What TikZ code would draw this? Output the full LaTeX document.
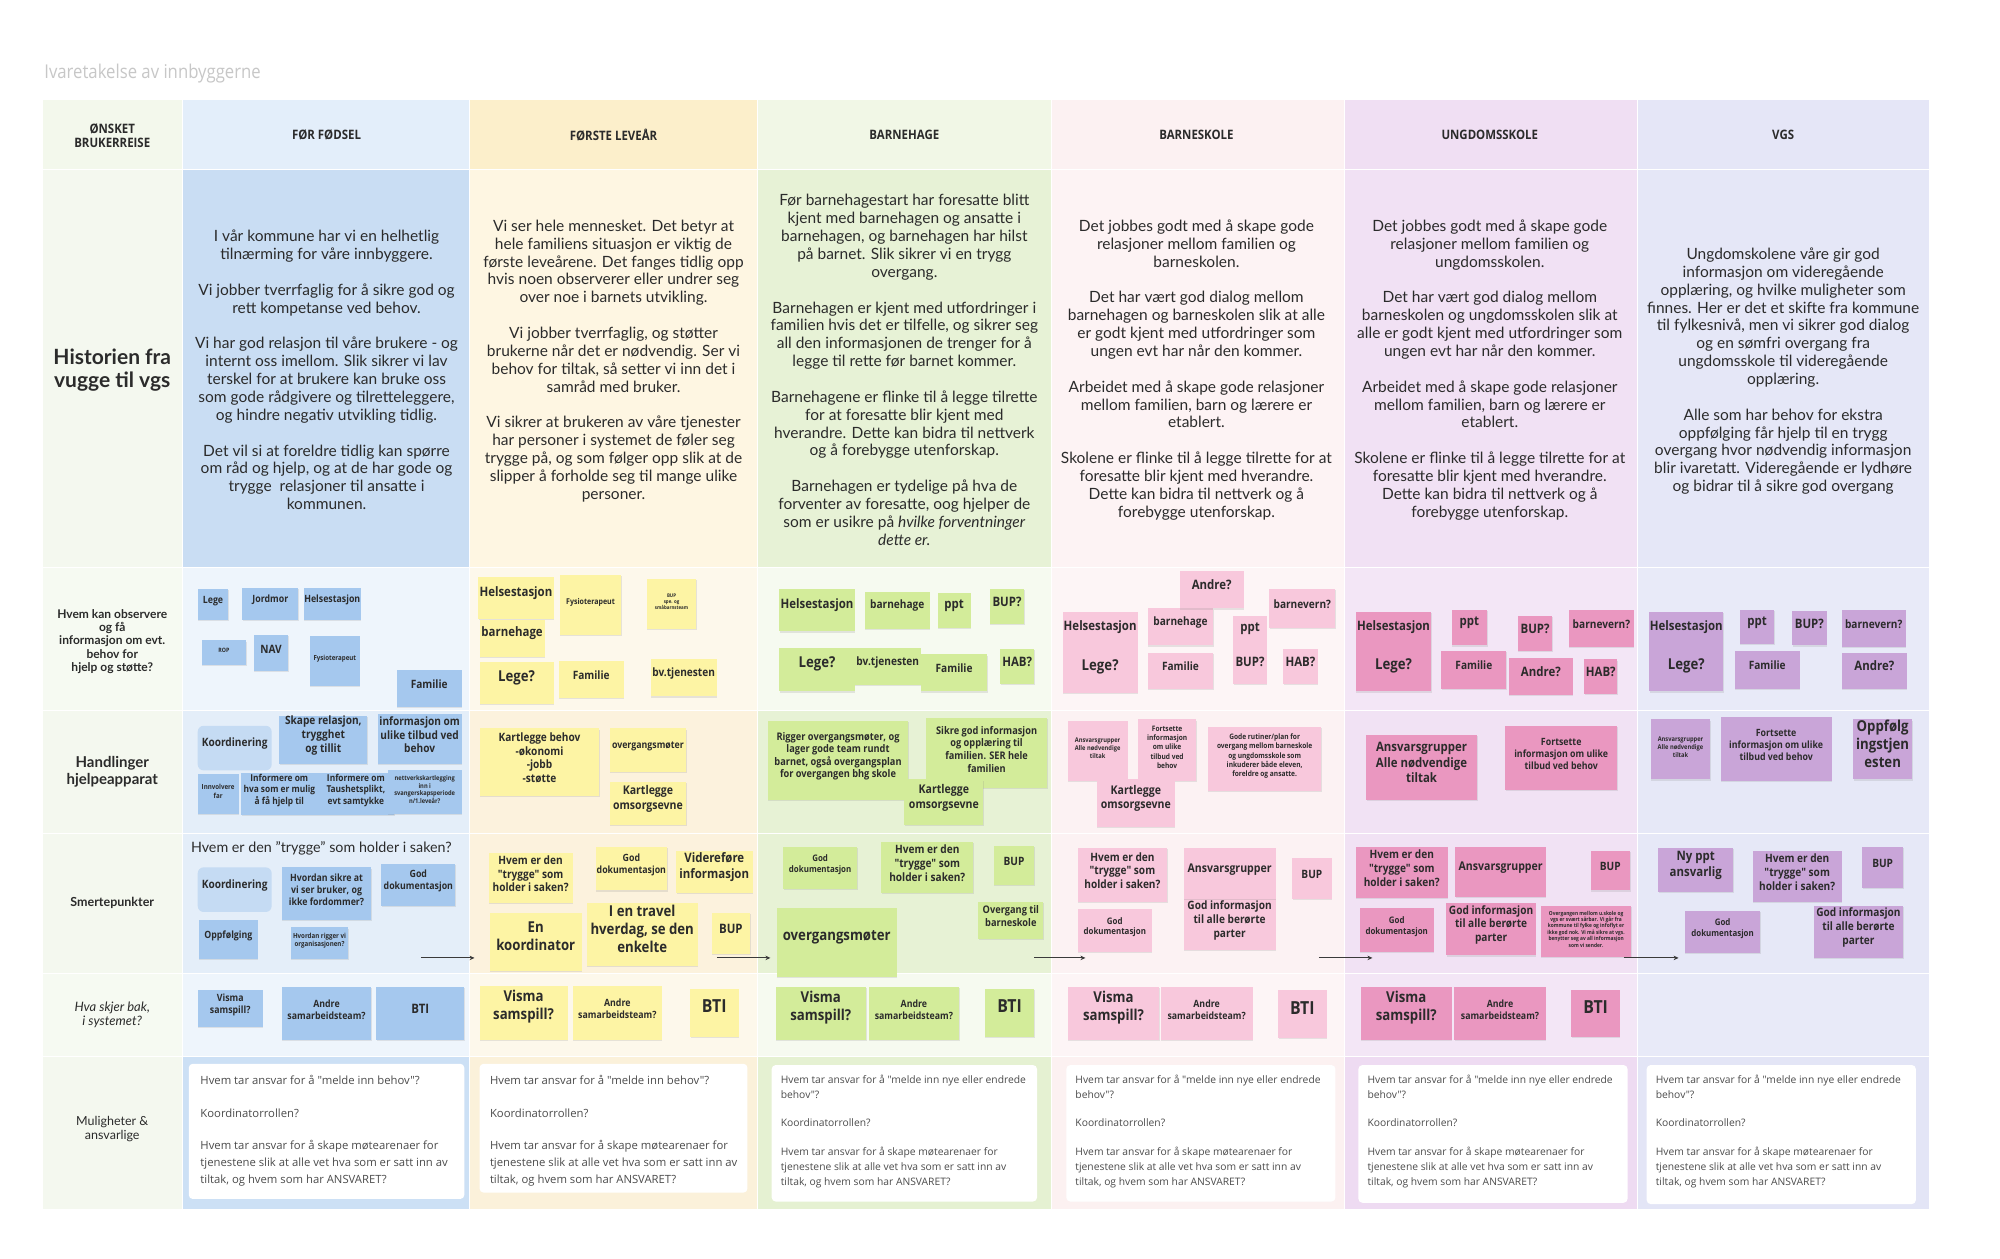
\documentclass[tikz,border=0pt]{standalone}
\usepackage{fontspec}
\setmainfont{Lato}
\newfontfamily\notefont{Open Sans}[FakeStretch=0.88]
\newfontfamily\cardfont{Open Sans}
\usetikzlibrary{fit,shadows,arrows.meta}

\definecolor{ink}{HTML}{2B2B2B}
\definecolor{arrowc}{HTML}{3A3A3A}
\definecolor{notebl}{HTML}{A5C8EE}
\definecolor{notekb}{HTML}{C5DBF3}
\definecolor{noteyl}{HTML}{FDF4A4}
\definecolor{notegr}{HTML}{D3EC9A}
\definecolor{notepk}{HTML}{F8C8DC}
\definecolor{noterd}{HTML}{EA97C0}
\definecolor{notevi}{HTML}{C9A5D8}
% column colours: header, history, light rows, mid rows, bottom row
\definecolor{hd0}{HTML}{F3F8EC}\definecolor{hi0}{HTML}{F4F8EF}\definecolor{lo0}{HTML}{F6FAF2}\definecolor{mi0}{HTML}{F4F8EF}\definecolor{mu0}{HTML}{F4F8EF}
\definecolor{hd1}{HTML}{E3EEFA}\definecolor{hi1}{HTML}{C9DDF3}\definecolor{lo1}{HTML}{EEF5FC}\definecolor{mi1}{HTML}{E4EEF9}\definecolor{mu1}{HTML}{CCE0F5}
\definecolor{hd2}{HTML}{FCEFCB}\definecolor{hi2}{HTML}{FEF6E2}\definecolor{lo2}{HTML}{FDF8EB}\definecolor{mi2}{HTML}{FCF2DD}\definecolor{mu2}{HTML}{FBF1DA}
\definecolor{hd3}{HTML}{F1F7E6}\definecolor{hi3}{HTML}{E7F2D6}\definecolor{lo3}{HTML}{F6FAF0}\definecolor{mi3}{HTML}{E7F2D5}\definecolor{mu3}{HTML}{E5F1D2}
\definecolor{hd4}{HTML}{FCF1F2}\definecolor{hi4}{HTML}{FDF3F4}\definecolor{lo4}{HTML}{FDF5F6}\definecolor{mi4}{HTML}{FCF2F3}\definecolor{mu4}{HTML}{FCF1F1}
\definecolor{hd5}{HTML}{F0DFF3}\definecolor{hi5}{HTML}{F1E1F4}\definecolor{lo5}{HTML}{F3E6F6}\definecolor{mi5}{HTML}{F1E2F4}\definecolor{mu5}{HTML}{EEDBF2}
\definecolor{hd6}{HTML}{E5E6F7}\definecolor{hi6}{HTML}{E5E7F7}\definecolor{lo6}{HTML}{E8EAF8}\definecolor{mi6}{HTML}{E6E8F7}\definecolor{mu6}{HTML}{E3E5F6}

\tikzset{
	cell/.style={draw=white, line width=0.8pt},
	head/.style={font=\notefont\bfseries\fontsize{13}{14}\selectfont, text=ink, align=center},
	rowlabel/.style={font=\bfseries\fontsize{12}{13.4}\selectfont, text=ink, align=center},
	story/.style={font=\fontsize{15.5}{17.86}\selectfont, text=ink, align=center},
	note/.style={inner sep=0pt, align=center, text=ink, drop shadow={shadow xshift=0.5pt, shadow yshift=-1.2pt, opacity=0.18}},
	bnote/.style={note, fill=notebl},
	kbox/.style={inner sep=0pt, align=center, text=ink, fill=notekb, rounded corners=6pt},
	ynote/.style={note, fill=noteyl},
	gnote/.style={note, fill=notegr},
	pnote/.style={note, fill=notepk},
	rnote/.style={note, fill=noterd},
	vnote/.style={note, fill=notevi},
	fxs/.style={font=\notefont\bfseries\fontsize{6}{7.2}\selectfont},
	fsx/.style={font=\notefont\bfseries\fontsize{8}{9.6}\selectfont},
	fsm/.style={font=\notefont\bfseries\fontsize{10}{12}\selectfont},
	fmd/.style={font=\notefont\bfseries\fontsize{11.5}{13.8}\selectfont},
	fml/.style={font=\notefont\bfseries\fontsize{13}{15.6}\selectfont},
	flg/.style={font=\notefont\bfseries\fontsize{15}{18}\selectfont},
	fxl/.style={font=\notefont\bfseries\fontsize{18}{21.6}\selectfont},
	fz/.style 2 args={font=\notefont\bfseries\fontsize{#1}{#2}\selectfont},
	card/.style={fill=white, rounded corners=4pt, inner sep=0pt},
	cardtext/.style={anchor=north west, inner sep=0pt, align=left, text=ink!85, font=\cardfont\fontsize{10.3}{15}\selectfont},
	flow/.style={draw=arrowc, line width=1.1pt, -{Stealth[length=5pt,width=4.5pt]}},
}

\begin{document}
\begin{tikzpicture}[x=1.2755pt, y=-1.2755pt]
	\useasboundingbox (0,0) rectangle (1568,987);
	\fill[white] (0,0) rectangle (1568,987);

	% grid of cells
	\foreach \xa/\xb/\k in {33/143/0,143/368/1,368/594/2,594/824/3,824/1054/4,1054/1284/5,1284/1513/6}{
		\draw[cell, fill=hd\k] (\xa,78) rectangle (\xb,133);
		\draw[cell, fill=hi\k] (\xa,133) rectangle (\xb,445);
		\draw[cell, fill=lo\k] (\xa,445) rectangle (\xb,557);
		\draw[cell, fill=mi\k] (\xa,557) rectangle (\xb,653);
		\draw[cell, fill=mi\k] (\xa,653) rectangle (\xb,763);
		\draw[cell, fill=lo\k] (\xa,763) rectangle (\xb,828);
		\draw[cell, fill=mu\k] (\xa,828) rectangle (\xb,948);
	}

	\node[anchor=west, font=\notefont\fontsize{19}{21}\selectfont, text=black!22] (title) at (32,58) {Ivaretakelse av innbyggerne};

	% headers
	\node[head] (hL) at (88,106) {ØNSKET\\BRUKERREISE};
	\node[head] (h1) at (256,106) {FØR FØDSEL};
	\node[head] (h2) at (481,106) {FØRSTE LEVEÅR};
	\node[head] (h3) at (709,106) {BARNEHAGE};
	\node[head] (h4) at (938,106) {BARNESKOLE};
	\node[head] (h5) at (1168,106) {UNGDOMSSKOLE};
	\node[head] (h6) at (1398,106) {VGS};

	% row labels
	\node[rowlabel, font=\bfseries\fontsize{21}{23}\selectfont] (lHist) at (88,290) {Historien fra\\vugge til vgs};
	\node[rowlabel] (lHvem) at (88,503) {Hvem kan observere\\og få\\informasjon om evt.\\behov for\\hjelp og støtte?};
	\node[rowlabel, font=\bfseries\fontsize{15}{16.6}\selectfont] (lHand) at (88,605) {Handlinger\\hjelpeapparat};
	\node[rowlabel, font=\bfseries\fontsize{12.5}{14}\selectfont] (lSmerte) at (88,708) {Smertepunkter};
	\node[rowlabel, font=\itshape\fontsize{13}{14}\selectfont] (lBak) at (88,796) {Hva skjer bak,\\i systemet?};
	\node[rowlabel, font=\fontsize{12.5}{14}\selectfont] (lMul) at (88,885) {Muligheter \&\\ansvarlige};

	% history texts
	\node[story] (story1) at (256,290) {I vår kommune har vi en helhetlig\\tilnærming for våre innbyggere.\\[17.86pt]Vi jobber tverrfaglig for å sikre god og\\rett kompetanse ved behov.\\[17.86pt]Vi har god relasjon til våre brukere - og\\internt oss imellom. Slik sikrer vi lav\\terskel for at brukere kan bruke oss\\som gode rådgivere og tilretteleggere,\\og hindre negativ utvikling tidlig.\\[17.86pt]Det vil si at foreldre tidlig kan spørre\\om råd og hjelp, og at de har gode og\\trygge\ \ relasjoner til ansatte i\\kommunen.};
	\node[story] (story2) at (481,283) {Vi ser hele mennesket. Det betyr at\\hele familiens situasjon er viktig de\\første leveårene. Det fanges tidlig opp\\hvis noen observerer eller undrer seg\\over noe i barnets utvikling.\\[17.86pt]Vi jobber tverrfaglig, og støtter\\brukerne når det er nødvendig. Ser vi\\behov for tiltak, så setter vi inn det i\\samråd med bruker.\\[17.86pt]Vi sikrer at brukeren av våre tjenester\\har personer i systemet de føler seg\\trygge på, og som følger opp slik at de\\slipper å forholde seg til mange ulike\\personer.};
	\node[story] (story3) at (709,290) {Før barnehagestart har foresatte blitt\\kjent med barnehagen og ansatte i\\barnehagen, og barnehagen har hilst\\på barnet. Slik sikrer vi en trygg\\overgang.\\[17.86pt]Barnehagen er kjent med utfordringer i\\familien hvis det er tilfelle, og sikrer seg\\all den informasjonen de trenger for å\\legge til rette før barnet kommer.\\[17.86pt]Barnehagene er flinke til å legge tilrette\\for at foresatte blir kjent med\\hverandre. Dette kan bidra til nettverk\\og å forebygge utenforskap.\\[17.86pt]Barnehagen er tydelige på hva de\\forventer av foresatte, oog hjelper de\\som er usikre på \textit{hvilke forventninger}\\\textit{dette er.}};
	\node[story] (story4) at (938,290) {Det jobbes godt med å skape gode\\relasjoner mellom familien og\\barneskolen.\\[17.86pt]Det har vært god dialog mellom\\barnehagen og barneskolen slik at alle\\er godt kjent med utfordringer som\\ungen evt har når den kommer.\\[17.86pt]Arbeidet med å skape gode relasjoner\\mellom familien, barn og lærere er\\etablert.\\[17.86pt]Skolene er flinke til å legge tilrette for at\\foresatte blir kjent med hverandre.\\Dette kan bidra til nettverk og å\\forebygge utenforskap.};
	\node[story] (story5) at (1168,290) {Det jobbes godt med å skape gode\\relasjoner mellom familien og\\ungdomsskolen.\\[17.86pt]Det har vært god dialog mellom\\barneskolen og ungdomsskolen slik at\\alle er godt kjent med utfordringer som\\ungen evt har når den kommer.\\[17.86pt]Arbeidet med å skape gode relasjoner\\mellom familien, barn og lærere er\\etablert.\\[17.86pt]Skolene er flinke til å legge tilrette for at\\foresatte blir kjent med hverandre.\\Dette kan bidra til nettverk og å\\forebygge utenforskap.};
	\node[story] (story6) at (1398,291) {Ungdomskolene våre gir god\\informasjon om videregående\\opplæring, og hvilke muligheter som\\finnes. Her er det et skifte fra kommune\\til fylkesnivå, men vi sikrer god dialog\\og en sømfri overgang fra\\ungdomsskole til videregående\\opplæring.\\[17.86pt]Alle som har behov for ekstra\\oppfølging får hjelp til en trygg\\overgang hvor nødvendig informasjon\\blir ivaretatt. Videregående er lydhøre\\og bidrar til å sikre god overgang};

	% FØR FØDSEL
	\node (c1lege) [bnote, fsm, fit={(155,462) (179,486)}] {Lege};
	\node (c1jordmor) [bnote, fsm, fit={(190,461) (234,486)}] {Jordmor};
	\node (c1helse) [bnote, fsm, fit={(238,461) (283,486)}] {Helsestasjon};
	\node (c1rop) [bnote, fxs, fit={(158,502) (193,521)}] {ROP};
	\node (c1nav) [bnote, fmd, fit={(199,498) (226,526)}] {NAV};
	\node (c1fysio) [bnote, fz={7}{8.4}, fit={(243,499) (282,538)}] {Fysioterapeut};
	\node (c1familie) [bnote, fmd, fit={(311,525) (362,554)}] {Familie};
	\node (c1koord) [kbox, fmd, fit={(155,569) (213,604)}] {Koordinering};
	\node (c1skape) [bnote, fmd, fit={(219,561) (288,599)}] {Skape relasjon,\\trygghet\\og tillit};
	\node (c1info) [bnote, fmd, fit={(296,560) (362,599)}] {informasjon om\\ulike tilbud ved\\behov};
	\node (c1far) [bnote, fz={7}{8.4}, fit={(155,607) (187,638)}] {Innvolvere\\far};
	\node (c1mulig) [bnote, fz={9.5}{11.2}, fit={(189,606) (249,639)}] {Informere om\\hva som er mulig\\å få hjelp til};
	\node (c1taus) [bnote, fz={9.5}{11.2}, fit={(249,606) (309,639)}] {Informere om\\Taushetsplikt,\\evt samtykke};
	\node (c1nett) [bnote, fz={6.5}{7.8}, fit={(304,604) (362,638)}] {nettverkskartlegging\\inn i\\svangerskapsperiode\\n/1.leveår?};
	\node[anchor=west, font=\fontsize{14.3}{16}\selectfont, text=ink] (c1trygg) at (147,665) {Hvem er den "trygge" som holder i saken?};
	\node (c1koord2) [kbox, fmd, fit={(155,680) (213,715)}] {Koordinering};
	\node (c1sikre) [bnote, fsm, fit={(221,680) (291,721)}] {Hvordan sikre at\\vi ser bruker, og\\ikke fordommer?};
	\node (c1dok) [bnote, fsm, fit={(299,677) (357,710)}] {God\\dokumentasjon};
	\node (c1oppf) [bnote, fsm, fit={(156,721) (202,752)}] {Oppfølging};
	\node (c1rigg) [bnote, fz={7}{8.4}, fit={(228,727) (273,752)}] {Hvordan rigger vi\\organisasjonen?};
	\node (c1visma) [bnote, fsm, fit={(155,776) (206,805)}] {Visma\\samspill?};
	\node (c1andre) [bnote, fsm, fit={(221,774) (291,815)}] {Andre\\samarbeidsteam?};
	\node (c1bti) [bnote, fml, fit={(295,774) (364,815)}] {BTI};

	% FØRSTE LEVEÅR
	\node (c2helse) [ynote, fml, fit={(375,452) (434,485)}] {Helsestasjon};
	\node (c2fysio) [ynote, fsx, fit={(439,451) (487,498)}] {Fysioterapeut};
	\node (c2bup) [ynote, fz={5}{6}, fit={(507,454) (546,493)}] {BUP\\spe. og\\småbarnsteam};
	\node (c2bhg) [ynote, fml, fit={(376,486) (427,515)}] {barnehage};
	\node (c2lege) [ynote, flg, fit={(376,519) (434,552)}] {Lege?};
	\node (c2familie) [ynote, fmd, fit={(438,518) (489,547)}] {Familie};
	\node (c2bv) [ynote, fmd, fit={(510,517) (562,546)}] {bv.tjenesten};
	\node (c2kart) [ynote, fmd, fit={(376,571) (470,624)}] {Kartlegge behov\\-økonomi\\-jobb\\-støtte};
	\node (c2overg) [ynote, fsm, fit={(478,571) (538,605)}] {overgangsmøter};
	\node (c2oms) [ynote, fz={12}{14.4}, fit={(478,613) (538,647)}] {Kartlegge\\omsorgsevne};
	\node (c2trygg) [ynote, fmd, fit={(383,669) (449,708)}] {Hvem er den\\"trygge" som\\holder i saken?};
	\node (c2dok) [ynote, fsm, fit={(467,664) (523,698)}] {God\\dokumentasjon};
	\node (c2videre) [ynote, fml, fit={(530,667) (590,700)}] {Videreføre\\informasjon};
	\node (c2koord) [ynote, flg, fit={(384,716) (456,761)}] {En\\koordinator};
	\node (c2travel) [ynote, flg, fit={(460,708) (547,757)}] {I en travel\\hverdag, se den\\enkelte};
	\node (c2bup2) [ynote, fml, fit={(558,716) (588,748)}] {BUP};
	\node (c2visma) [ynote, flg, fit={(376,773) (445,815)}] {Visma\\samspill?};
	\node (c2andre) [ynote, fsm, fit={(449,773) (519,815)}] {Andre\\samarbeidsteam?};
	\node (c2bti) [ynote, fxl, fit={(541,775) (579,813)}] {BTI};

	% BARNEHAGE
	\node (c3helse) [gnote, fml, fit={(611,462) (670,495)}] {Helsestasjon};
	\node (c3bhg) [gnote, fmd, fit={(678,464) (729,493)}] {barnehage};
	\node (c3ppt) [gnote, fml, fit={(735,465) (761,492)}] {ppt};
	\node (c3bup) [gnote, fml, fit={(776,462) (803,489)}] {BUP?};
	\node (c3lege) [gnote, flg, fit={(611,508) (670,542)}] {Lege?};
	\node (c3bv) [gnote, fmd, fit={(670,508) (722,537)}] {bv.tjenesten};
	\node (c3familie) [gnote, fmd, fit={(722,513) (774,542)}] {Familie};
	\node (c3hab) [gnote, fml, fit={(784,509) (811,536)}] {HAB?};
	\node (c3rigg) [gnote, fz={10.5}{12.4}, fit={(602,565) (712,627)}] {Rigger overgangsmøter, og\\lager gode team rundt\\barnet, også overgangsplan\\for overgangen bhg skole};
	\node (c3sikre) [gnote, fz={10.5}{12.6}, fit={(726,563) (821,618)}] {Sikre god informasjon\\og opplæring til\\familien. SER hele\\familien};
	\node (c3oms) [gnote, fz={12}{14.4}, fit={(709,611) (771,647)}] {Kartlegge\\omsorgsevne};
	\node (c3dok) [gnote, fz={9}{10.8}, fit={(614,664) (672,697)}] {God\\dokumentasjon};
	\node (c3trygg) [gnote, fmd, fit={(691,660) (763,700)}] {Hvem er den\\"trygge" som\\holder i saken?};
	\node (c3bup2) [gnote, fmd, fit={(779,663) (811,694)}] {BUP};
	\node (c3overg) [gnote, fz={10.5}{12.6}, fit={(767,707) (818,736)}] {Overgang til\\barneskole};
	\node (c3ovm) [gnote, flg, fit={(609,712) (703,766)}] {overgangsmøter};
	\node (c3visma) [gnote, flg, fit={(608,774) (679,815)}] {Visma\\samspill?};
	\node (c3andre) [gnote, fsm, fit={(681,774) (752,815)}] {Andre\\samarbeidsteam?};
	\node (c3bti) [gnote, fxl, fit={(772,775) (811,813)}] {BTI};

	% BARNESKOLE
	\node (c4bhg) [pnote, fmd, fit={(900,477) (951,506)}] {barnehage};
	\node (c4andre) [pnote, fml, fit={(925,448) (975,477)}] {Andre?};
	\node (c4barnevern) [pnote, fmd, fit={(995,462) (1047,492)}] {barnevern?};
	\node (c4helse) [pnote, fml, fit={(833,480) (892,511)}] {Helsestasjon};
	\node (c4lege) [pnote, flg, fit={(833,511) (892,543)}] {Lege?};
	\node (c4ppt) [pnote, fml, fit={(967,483) (993,509)}] {ppt};
	\node (c4familie) [pnote, fmd, fit={(900,512) (951,540)}] {Familie};
	\node (c4bup) [pnote, fml, fit={(967,509) (993,536)}] {BUP?};
	\node (c4hab) [pnote, fml, fit={(1006,509) (1033,536)}] {HAB?};
	\node (c4ansv) [pnote, fz={6.5}{8}, fit={(837,565) (884,612)}] {Ansvarsgrupper\\Alle nødvendige\\tiltak};
	\node (c4forts) [pnote, fz={7.5}{9.4}, fit={(892,564) (938,612)}] {Fortsette\\informasjon\\om ulike\\tilbud ved\\behov};
	\node (c4gode) [pnote, fz={7.5}{9.2}, fit={(947,570) (1036,620)}] {Gode rutiner/plan for\\overgang mellom barneskole\\og ungdomsskole som\\inkuderer både eleven,\\foreldre og ansatte.};
	\node (c4oms) [pnote, fz={12}{14.4}, fit={(860,611) (921,648)}] {Kartlegge\\omsorgsevne};
	\node (c4trygg) [pnote, fmd, fit={(845,665) (915,707)}] {Hvem er den\\"trygge" som\\holder i saken?};
	\node (c4info) [pnote, fmd, fit={(928,705) (1000,745)}] {God informasjon\\til alle berørte\\parter};
	\node (c4ansv2) [pnote, fz={12}{14.4}, fit={(928,665) (1000,705)}] {Ansvarsgrupper};
	\node (c4bup2) [pnote, fmd, fit={(1013,673) (1044,705)}] {BUP};
	\node (c4dok) [pnote, fz={9}{10.8}, fit={(845,713) (903,746)}] {God\\dokumentasjon};
	\node (c4visma) [pnote, flg, fit={(837,774) (909,815)}] {Visma\\samspill?};
	\node (c4andre2) [pnote, fsm, fit={(910,774) (982,815)}] {Andre\\samarbeidsteam?};
	\node (c4bti) [pnote, fxl, fit={(1002,776) (1040,814)}] {BTI};

	% UNGDOMSSKOLE
	\node (c5helse) [rnote, fml, fit={(1063,480) (1122,511)}] {Helsestasjon};
	\node (c5lege) [rnote, flg, fit={(1063,511) (1122,542)}] {Lege?};
	\node (c5ppt) [rnote, fml, fit={(1138,478) (1166,506)}] {ppt};
	\node (c5bup) [rnote, fml, fit={(1190,483) (1217,510)}] {BUP?};
	\node (c5barnevern) [rnote, fmd, fit={(1230,478) (1281,507)}] {barnevern?};
	\node (c5familie) [rnote, fmd, fit={(1130,510) (1181,540)}] {Familie};
	\node (c5andre) [rnote, fml, fit={(1183,516) (1233,545)}] {Andre?};
	\node (c5hab) [rnote, fml, fit={(1242,517) (1268,544)}] {HAB?};
	\node (c5ansv) [rnote, fml, fit={(1071,576) (1158,627)}] {Ansvarsgrupper\\Alle nødvendige\\tiltak};
	\node (c5forts) [rnote, fsm, fit={(1180,569) (1268,619)}] {Fortsette\\informasjon om ulike\\tilbud ved behov};
	\node (c5trygg) [rnote, fmd, fit={(1063,664) (1135,704)}] {Hvem er den\\"trygge" som\\holder i saken?};
	\node (c5ansv2) [rnote, fz={12}{14.4}, fit={(1141,664) (1212,703)}] {Ansvarsgrupper};
	\node (c5bup2) [rnote, fmd, fit={(1247,667) (1278,698)}] {BUP};
	\node (c5dok) [rnote, fz={9}{10.8}, fit={(1066,712) (1124,746)}] {God\\dokumentasjon};
	\node (c5info) [rnote, fmd, fit={(1134,708) (1204,749)}] {God informasjon\\til alle berørte\\parter};
	\node (c5overg) [rnote, fz={5.5}{6.4}, fit={(1208,710) (1279,750)}] {Overgangen mellom u.skole og\\vgs er svært sårbar. Vi går fra\\kommune til fylke og infoflyt er\\ikke god nok. Vi må sikre at vgs.\\benytter seg av all informasjon\\som vi sender.};
	\node (c5visma) [rnote, flg, fit={(1067,774) (1138,815)}] {Visma\\samspill?};
	\node (c5andre2) [rnote, fsm, fit={(1140,774) (1212,815)}] {Andre\\samarbeidsteam?};
	\node (c5bti) [rnote, fxl, fit={(1232,776) (1270,813)}] {BTI};

	% VGS
	\node (c6helse) [vnote, fml, fit={(1293,480) (1351,511)}] {Helsestasjon};
	\node (c6lege) [vnote, flg, fit={(1293,511) (1351,542)}] {Lege?};
	\node (c6ppt) [vnote, fml, fit={(1364,478) (1391,505)}] {ppt};
	\node (c6bup) [vnote, fml, fit={(1405,479) (1432,506)}] {BUP?};
	\node (c6barnevern) [vnote, fmd, fit={(1444,478) (1494,507)}] {barnevern?};
	\node (c6familie) [vnote, fmd, fit={(1360,510) (1411,540)}] {Familie};
	\node (c6andre) [vnote, fml, fit={(1444,512) (1495,540)}] {Andre?};
	\node (c6ansv) [vnote, fz={6.5}{8}, fit={(1294,564) (1341,611)}] {Ansvarsgrupper\\Alle nødvendige\\tiltak};
	\node (c6forts) [vnote, fsm, fit={(1349,562) (1436,612)}] {Fortsette\\informasjon om ulike\\tilbud ved behov};
	\node (c6oppf) [vnote, flg, fit={(1453,564) (1499,611)}] {Oppfølg\\ingstjen\\esten};
	\node (c6ny) [vnote, fml, fit={(1300,665) (1359,699)}] {Ny ppt\\ansvarlig};
	\node (c6trygg) [vnote, fmd, fit={(1374,667) (1444,707)}] {Hvem er den\\"trygge" som\\holder i saken?};
	\node (c6bup2) [vnote, fmd, fit={(1460,664) (1492,696)}] {BUP};
	\node (c6dok) [vnote, fz={9}{10.8}, fit={(1321,714) (1380,747)}] {God\\dokumentasjon};
	\node (c6info) [vnote, fmd, fit={(1422,710) (1492,751)}] {God informasjon\\til alle berørte\\parter};

	% flow between the stages
	\coordinate (a1s) at (330,751); \coordinate (a1e) at (372,751);
	\coordinate (a2s) at (562,751); \coordinate (a2e) at (604,751);
	\coordinate (a3s) at (811,751); \coordinate (a3e) at (851,751);
	\coordinate (a4s) at (1034,751); \coordinate (a4e) at (1076,751);
	\coordinate (a5s) at (1273,751); \coordinate (a5e) at (1316,751);
	\foreach \i in {1,...,5}
		\draw[flow] (a\i s) -- (a\i e);

	% cards
	\node (m1) [card, fit={(148,834) (364,940)}] {};
	\node (m2) [card, fit={(376,834) (586,935)}] {};
	\node (m3) [card, fit={(605,835) (813,942)}] {};
	\node (m4) [card, fit={(836,835) (1047,942)}] {};
	\node (m5) [card, fit={(1065,835) (1276,943)}] {};
	\node (m6) [card, fit={(1291,835) (1502,944)}] {};
	\node (m1t) [cardtext, font=\cardfont\fontsize{11.3}{16.6}\selectfont] at (157,843) {Hvem tar ansvar for å "melde inn behov"?\\[16pt]Koordinatorrollen?\\[16pt]Hvem tar ansvar for å skape møtearenaer for\\tjenestene slik at alle vet hva som er satt inn av\\tiltak, og hvem som har ANSVARET?};
	\node (m2t) [cardtext, font=\cardfont\fontsize{11.3}{16.6}\selectfont] at (384,843) {Hvem tar ansvar for å "melde inn behov"?\\[16pt]Koordinatorrollen?\\[16pt]Hvem tar ansvar for å skape møtearenaer for\\tjenestene slik at alle vet hva som er satt inn av\\tiltak, og hvem som har ANSVARET?};
	\foreach \n/\xa in {m3/612,m4/843,m5/1072,m6/1298}
		\node (\n t) [cardtext] at (\xa,842.5) {Hvem tar ansvar for å "melde inn nye eller endrede\\behov"?\\[13.5pt]Koordinatorrollen?\\[13.5pt]Hvem tar ansvar for å skape møtearenaer for\\tjenestene slik at alle vet hva som er satt inn av\\tiltak, og hvem som har ANSVARET?};
\end{tikzpicture}
\end{document}
